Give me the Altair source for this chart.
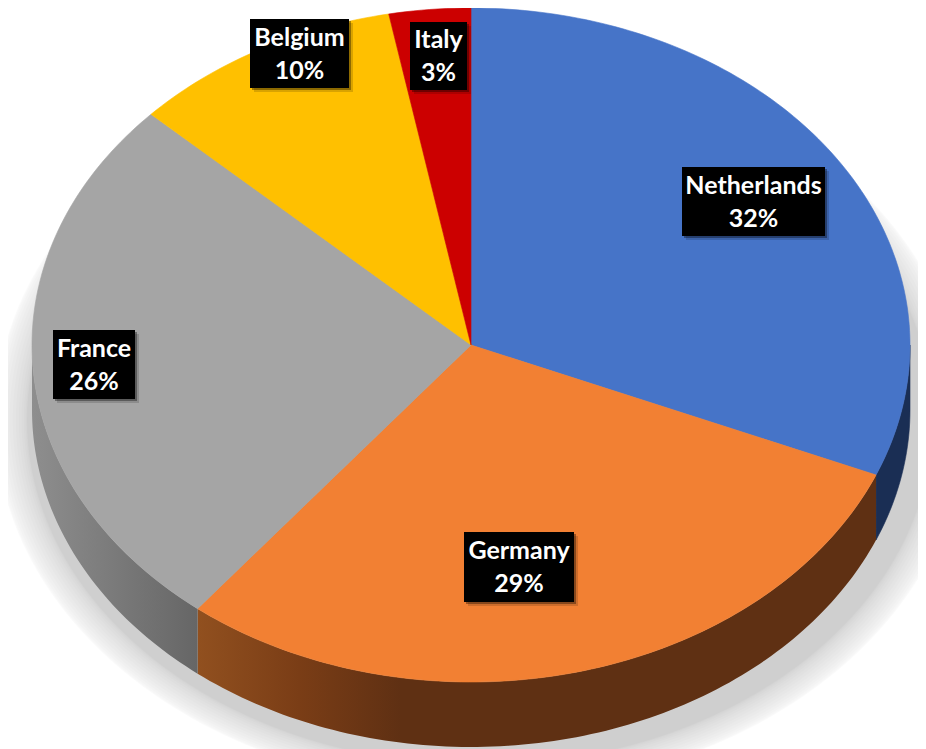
import numpy as np
import pandas as pd
import altair as alt

countries = ["Netherlands", "Germany", "France", "Belgium", "Italy"]
shares = [31.3, 29.4, 26.3, 10.0, 3.0]
labels = ["32%", "29%", "26%", "10%", "3%"]
top_colors = ["#4674C8", "#F28033", "#A5A5A5", "#FFC000", "#CC0000"]

# Layout of the reference picture, in page pixels
CX, CY, RX, RY, DEPTH = 471, 345, 439, 337, 65
W, H = 910, 741
box_left = [682, 464, 53, 250, 410]
box_right = [825, 574, 135, 349, 467]
box_top = [167, 532, 330, 19, 22]
box_bottom = [236, 602, 399, 88, 90]

def ux(px):
    return (np.asarray(px, dtype=float) - CX) / RX

def uy(py):
    return (CY - np.asarray(py, dtype=float)) / RY

xs = alt.Scale(domain=[float(ux(8)), float(ux(8 + W))], nice=False, zero=False)
ys = alt.Scale(domain=[float(uy(8 + H)), float(uy(8))], nice=False, zero=False)
d = DEPTH / RY

def arc(a, b):
    n = max(2, int(abs(b - a)) + 1)
    return np.radians(np.linspace(a, b, n))

def shape(df, fill, clip=False, stroke=True, opacity=1.0):
    kw = {"fill": fill, "clip": clip, "strokeWidth": 0.6 if stroke else 0, "fillOpacity": opacity}
    if stroke:
        kw["stroke"] = fill
    else:
        kw["strokeOpacity"] = 0
    return alt.Chart(df).mark_line(**kw).encode(
        x=alt.X("x:Q", scale=xs, axis=None),
        y=alt.Y("y:Q", scale=ys, axis=None),
        order=alt.Order("i:Q"),
    )

def frame(x, y):
    return pd.DataFrame({"x": x, "y": y, "i": np.arange(len(x))})

edges = np.concatenate([[0], np.cumsum(shares) / np.sum(shares) * 360])
layers = []

# soft shadow under the pie: nested translucent ellipses
t = arc(0, 360)
rings = 16
for f in np.linspace(0, 1, rings):
    f2 = f * f * (3 - 2 * f)
    srx = (485 - 32 * f2) / RX
    sry = (371 - 26 * f2) / RY
    sx0 = (480 - CX) / RX
    sy0 = (CY - 420) / RY
    layers.append(shape(frame(sx0 + srx * np.sin(t), sy0 + sry * np.cos(t)),
                        "#000000", clip=True, stroke=False, opacity=0.0125))

# side walls of the disc (only the front half shows)
wall_fills = {
    0: "#1A2E54",
    1: alt.LinearGradient(
        gradient="linear", x1=0, x2=1, y1=0, y2=0,
        stops=[
            alt.GradientStop(offset=0, color="#91501F"),
            alt.GradientStop(offset=0.15, color="#7A3D16"),
            alt.GradientStop(offset=0.3, color="#5F3013"),
            alt.GradientStop(offset=1, color="#5F3013"),
        ],
    ),
    2: alt.LinearGradient(
        gradient="linear", x1=0, x2=1, y1=0, y2=0,
        stops=[
            alt.GradientStop(offset=0, color="#8E8E8E"),
            alt.GradientStop(offset=1, color="#666666"),
        ],
    ),
}
for k, fill in wall_fills.items():
    a, b = max(edges[k], 90), min(edges[k + 1], 270)
    t1 = arc(a, b)
    t2 = t1[::-1]
    x = np.concatenate([np.sin(t1), np.sin(t2), np.sin(t1[:1])])
    y = np.concatenate([np.cos(t1), np.cos(t2) - d, np.cos(t1[:1])])
    layers.append(shape(frame(x, y), fill, clip=True, stroke=isinstance(fill, str)))

# top face
for k, color in enumerate(top_colors):
    t1 = arc(edges[k], edges[k + 1])
    x = np.concatenate([[0], np.sin(t1), [0]])
    y = np.concatenate([[0], np.cos(t1), [0]])
    layers.append(shape(frame(x, y), color, clip=True))

# label boxes
bl, br, bt, bb = map(np.array, (box_left, box_right, box_top, box_bottom))
lab = pd.DataFrame({
    "name": countries,
    "pct": labels,
    "x1": ux(bl), "x2": ux(br), "y1": uy(bt), "y2": uy(bb),
    "sx1": ux(bl + 2), "sx2": ux(br + 2), "sy1": uy(bt + 2), "sy2": uy(bb + 2),
    "tx1": ux(bl + 4), "tx2": ux(br + 4), "ty1": uy(bt + 4), "ty2": uy(bb + 4),
    "xc": ux((bl + br) / 2),
    "yn": uy((bt + bb) / 2 - 16),
    "yp": uy((bt + bb) / 2 + 17),
})
base = alt.Chart(lab)
layers.append(base.mark_rect(color="#000000", opacity=0.15).encode(
    x=alt.X("tx1:Q", scale=xs, axis=None), x2="tx2:Q",
    y=alt.Y("ty1:Q", scale=ys, axis=None), y2="ty2:Q"))
layers.append(base.mark_rect(color="#000000", opacity=0.35).encode(
    x=alt.X("sx1:Q", scale=xs, axis=None), x2="sx2:Q",
    y=alt.Y("sy1:Q", scale=ys, axis=None), y2="sy2:Q"))
layers.append(base.mark_rect(color="#000000").encode(
    x=alt.X("x1:Q", scale=xs, axis=None), x2="x2:Q",
    y=alt.Y("y1:Q", scale=ys, axis=None), y2="y2:Q"))
for field, yf in (("name", "yn"), ("pct", "yp")):
    layers.append(base.mark_text(
        font="Lato", fontWeight="bold", fontSize=25, color="#FFFFFF",
        align="center", baseline="middle").encode(
        x=alt.X("xc:Q", scale=xs, axis=None),
        y=alt.Y(f"{yf}:Q", scale=ys, axis=None),
        text=f"{field}:N"))

chart = alt.layer(*layers).properties(
    width=W, height=H, padding=0,
    autosize=alt.AutoSizeParams(type="none"),
    background="#FFFFFF",
).configure_view(stroke=None)

chart.save("out.html", embed_options={"renderer": "svg", "actions": False})
